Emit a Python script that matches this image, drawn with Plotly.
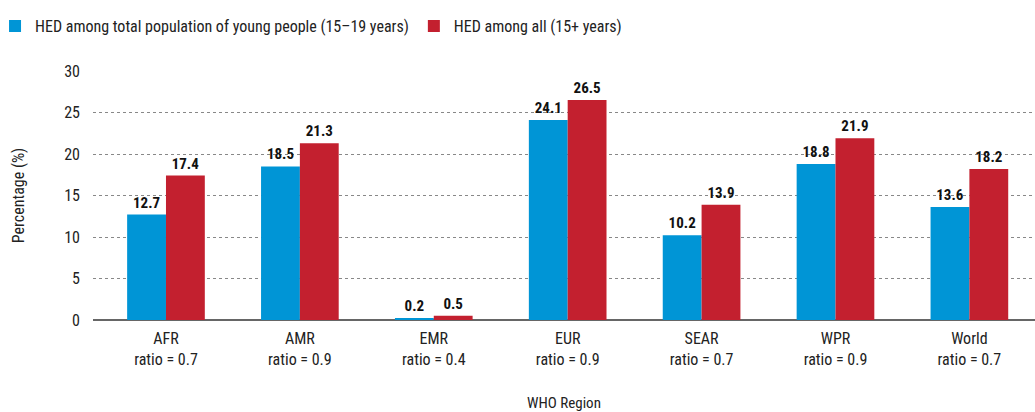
import plotly.graph_objects as go

regions = ["AFR", "AMR", "EMR", "EUR", "SEAR", "WPR", "World"]
ratios = ["0.7", "0.9", "0.4", "0.9", "0.7", "0.9", "0.7"]
young = [12.7, 18.5, 0.2, 24.1, 10.2, 18.8, 13.6]
all_ages = [17.4, 21.3, 0.5, 26.5, 13.9, 21.9, 18.2]
y_ticks = [0, 5, 10, 15, 20, 25, 30]

labels = [f"{r}<br>ratio = {q}" for r, q in zip(regions, ratios)]
FONT = "Roboto Condensed, DejaVu Sans Condensed, sans-serif"

fig = go.Figure()
fig.add_bar(name="HED among total population of young people (15–19 years)",
            x=labels, y=young, marker_color="#0095D6", marker_line_width=0,
            text=[f"{v:.1f}" for v in young], textposition="outside",
            textfont=dict(size=15, color="#111", family=FONT, weight="bold"),
            cliponaxis=False)
fig.add_bar(name="HED among all (15+ years)",
            x=labels, y=all_ages, marker_color="#C3202F", marker_line_width=0,
            text=[f"{v:.1f}" for v in all_ages], textposition="outside",
            textfont=dict(size=15, color="#111", family=FONT, weight="bold"),
            cliponaxis=False)

fig.update_layout(
    width=1035, height=412,
    margin=dict(l=93, r=0, t=71, b=92, autoexpand=False),
    paper_bgcolor="white", plot_bgcolor="white",
    font=dict(family=FONT, size=16, color="#222"),
    barmode="group", bargap=0.42, bargroupgap=0,
    legend=dict(orientation="h", x=-0.104, xanchor="left", y=1.18, yanchor="middle",
                font=dict(size=16), itemwidth=30, traceorder="normal"),
    xaxis=dict(range=[-0.545, 6.49], showgrid=False, showline=False,
               ticks="", tickfont=dict(size=16), ticklabelstandoff=7,
               title=dict(text="WHO Region", font=dict(size=15), standoff=32)),
    yaxis=dict(range=[0, 30], tickvals=y_ticks, showgrid=True,
               gridcolor="#888", griddash="dot", gridwidth=1,
               zeroline=True, zerolinecolor="#666", zerolinewidth=1.5,
               ticks="", ticklabelstandoff=12, tickfont=dict(size=16),
               title=dict(text="Percentage (%)", font=dict(size=16), standoff=35)),
)
fig.write_html("out.html", config={"displayModeBar": False},
               post_script="document.body.style.margin='0';")
